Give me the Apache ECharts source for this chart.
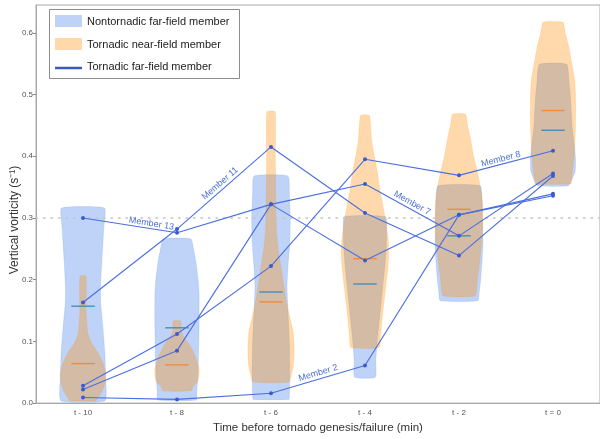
<!DOCTYPE html>
<html><head><meta charset="utf-8">
<script src="https://cdn.jsdelivr.net/npm/echarts@6/dist/echarts.min.js"></script>
<style>html,body{margin:0;padding:0;background:#fff}#c{width:600px;height:439px}</style>
</head><body><div id="c"></div>
<script>
// ---------------- data ----------------
const categories = ['t - 10', 't - 8', 't - 6', 't - 4', 't - 2', 't = 0'];
const yTickLabels = ['0.0', '0.1', '0.2', '0.3', '0.4', '0.5', '0.6'];

// Nontornadic far-field members: violin profile (vorticity levels, density half-width in category units)
const nontornadicLevels = [
  [0.316, 0.283, 0.23, 0.188, 0.161, 0.124, 0.082, 0.04, 0.004],
  [0.266, 0.25, 0.23, 0.2, 0.177, 0.124, 0.071, 0.04, 0.019, 0.005],
  [0.368, 0.34, 0.30, 0.26, 0.22, 0.19, 0.15, 0.10, 0.05, 0.01, 0.006],
  [0.302, 0.28, 0.25, 0.22, 0.19, 0.16, 0.13, 0.10, 0.07, 0.042],
  [0.352, 0.325, 0.29, 0.26, 0.23, 0.20, 0.18, 0.166],
  [0.549, 0.52, 0.497, 0.47, 0.444, 0.42, 0.395, 0.375, 0.362, 0.352]
];
const nontornadicDensity = [
  [0.228, 0.221, 0.2, 0.186, 0.189, 0.211, 0.232, 0.242, 0.235],
  [0.148, 0.175, 0.2, 0.225, 0.235, 0.235, 0.228, 0.22, 0.21, 0.205],
  [0.18, 0.195, 0.205, 0.2, 0.18, 0.17, 0.18, 0.195, 0.2, 0.195, 0.19],
  [0.22, 0.23, 0.225, 0.21, 0.19, 0.17, 0.15, 0.13, 0.115, 0.11],
  [0.225, 0.245, 0.25, 0.255, 0.245, 0.23, 0.215, 0.2],
  [0.145, 0.17, 0.185, 0.195, 0.205, 0.225, 0.24, 0.235, 0.2, 0.16]
];
// Tornadic near-field members
const tornadicLevels = [
  [0.206, 0.15, 0.135, 0.114, 0.098, 0.082, 0.066, 0.05, 0.034, 0.019, 0.008, 0.004],
  [0.133, 0.119, 0.108, 0.093, 0.077, 0.056, 0.045, 0.035, 0.027, 0.02],
  [0.472, 0.40, 0.30, 0.275, 0.249, 0.222, 0.196, 0.169, 0.143, 0.116, 0.09, 0.063, 0.047, 0.034],
  [0.466, 0.426, 0.399, 0.373, 0.346, 0.32, 0.294, 0.267, 0.241, 0.214, 0.188, 0.161, 0.135, 0.108, 0.09],
  [0.468, 0.45, 0.43, 0.40, 0.378, 0.352, 0.325, 0.29, 0.26, 0.23, 0.20, 0.174],
  [0.617, 0.6, 0.577, 0.55, 0.524, 0.495, 0.46, 0.43, 0.40, 0.38, 0.36, 0.355]
];
const tornadicDensity = [
  [0.032, 0.033, 0.038, 0.05, 0.088, 0.158, 0.21, 0.238, 0.235, 0.204, 0.158, 0.14],
  [0.04, 0.042, 0.07, 0.14, 0.19, 0.235, 0.235, 0.22, 0.17, 0.15],
  [0.044, 0.046, 0.053, 0.06, 0.077, 0.105, 0.13, 0.158, 0.193, 0.235, 0.246, 0.24, 0.218, 0.19],
  [0.046, 0.07, 0.1, 0.133, 0.158, 0.19, 0.22, 0.245, 0.253, 0.24, 0.22, 0.2, 0.18, 0.165, 0.15],
  [0.07, 0.09, 0.12, 0.155, 0.19, 0.225, 0.25, 0.255, 0.24, 0.22, 0.195, 0.17],
  [0.105, 0.13, 0.168, 0.2, 0.23, 0.24, 0.24, 0.235, 0.225, 0.21, 0.195, 0.19]
];
const nontornadicMean = [0.157, 0.122, 0.18, 0.193, 0.271, 0.442];
const tornadicMean = [0.064, 0.062, 0.164, 0.234, 0.314, 0.474];

// Tornadic far-field members
const member2  = [0.009, 0.006, 0.016, 0.061, 0.305, 0.339];
const member7  = [0.022, 0.085, 0.322, 0.355, 0.271, 0.372];
const member8  = [0.028, 0.112, 0.222, 0.395, 0.369, 0.409];
const member11 = [0.163, 0.282, 0.415, 0.308, 0.239, 0.368];
const member13 = [0.300, 0.276, 0.322, 0.231, 0.305, 0.336];
const referenceLevel = 0.3;

// ---------------- styling ----------------
const FONT = '"Liberation Sans", Arial, sans-serif';
const blueFill = 'rgba(100,149,237,0.42)';
const orangeFill = 'rgba(255,140,0,0.33)';
const memberColor = '#4a6fe0';

const memberLabelPlacement = [
  { text: 'Member 13', series: member13, seg: 0, at: 0.72, lift: 5 },
  { text: 'Member 11', series: member11, seg: 1, at: 0.5, lift: 6 },
  { text: 'Member 7', series: member7, seg: 3, at: 0.47, lift: 6 },
  { text: 'Member 8', series: member8, seg: 4, at: 0.46, lift: 5 },
  { text: 'Member 2', series: member2, seg: 2, at: 0.52, lift: 6 }
];

function violinRenderer(levels, density, fill) {
  return function (params, api) {
    const i = params.dataIndex;
    const lv = levels[i], dn = density[i];
    const band = api.size([1, 0])[0];
    const right = [], left = [];
    for (let k = 0; k < lv.length; k++) {
      const c = api.coord([i, lv[k]]);
      right.push([c[0] + dn[k] * band, c[1]]);
      left.push([c[0] - dn[k] * band, c[1]]);
    }
    return {
      type: 'polygon',
      shape: { points: right.concat(left.reverse()), smooth: 0.15 },
      style: { fill: fill, stroke: fill, lineWidth: 0.5 }
    };
  };
}
function meanRenderer(means, color) {
  return function (params, api) {
    const i = params.dataIndex;
    const band = api.size([1, 0])[0];
    const c = api.coord([i, means[i]]);
    return {
      type: 'line',
      shape: { x1: c[0] - 0.125 * band, y1: c[1], x2: c[0] + 0.125 * band, y2: c[1] },
      style: { stroke: color, lineWidth: 1.4 }
    };
  };
}
function violinData(levels) {
  return levels.map((lv, i) => [i, lv[0], lv[lv.length - 1]]);
}
function memberSeries(data) {
  return {
    type: 'line', name: 'Tornadic far-field member', data: data, z: 6,
    symbol: 'circle', symbolSize: 4,
    lineStyle: { color: memberColor, width: 1.1 },
    itemStyle: { color: '#3a5bd0' }, emphasis: { disabled: true }
  };
}

const chart = echarts.init(document.getElementById('c'), null, { renderer: 'canvas' });
chart.setOption({
  animation: false,
  backgroundColor: '#fff',
  textStyle: { fontFamily: FONT },
  grid: { left: 36, right: -6, top: 5, bottom: 27, show: true, borderColor: '#a8a8a8', borderWidth: 1 },
  xAxis: {
    type: 'category', data: categories, boundaryGap: true,
    axisLine: { lineStyle: { color: '#a8a8a8' } },
    axisTick: { alignWithLabel: true, length: 3, lineStyle: { color: '#888' } },
    axisLabel: { fontSize: 8, color: '#555', margin: 6, fontFamily: FONT },
    name: 'Time before tornado genesis/failure (min)', nameLocation: 'middle', nameGap: 15,
    nameTextStyle: { fontSize: 11.5, color: '#333', fontFamily: FONT }
  },
  yAxis: {
    type: 'value', min: 0, max: 0.645, interval: 0.1,
    splitLine: { show: false },
    axisLine: { show: true, lineStyle: { color: '#a8a8a8' } },
    axisTick: { show: true, length: 3, lineStyle: { color: '#888' } },
    axisLabel: {
      fontSize: 8, color: '#555', margin: 3, fontFamily: FONT, showMaxLabel: false,
      formatter: v => { const k = Math.round(v * 10); return (Math.abs(v * 10 - k) < 1e-6 && yTickLabels[k]) ? yTickLabels[k] : ''; }
    }
  },
  series: [
    {
      type: 'custom', name: 'Nontornadic far-field member', z: 1,
      renderItem: violinRenderer(nontornadicLevels, nontornadicDensity, blueFill),
      data: violinData(nontornadicLevels), encode: { x: 0, y: [1, 2] },
      markLine: {
        silent: true, symbol: 'none', label: { show: false }, animation: false,
        lineStyle: { color: '#c4c4c4', width: 1.5, type: [1.5, 6], cap: 'round' },
        data: [{ yAxis: referenceLevel }]
      }
    },
    {
      type: 'custom', name: 'Tornadic near-field member', z: 2,
      renderItem: violinRenderer(tornadicLevels, tornadicDensity, orangeFill),
      data: violinData(tornadicLevels), encode: { x: 0, y: [1, 2] }
    },
    {
      type: 'custom', name: 'nontornadic mean', z: 3,
      renderItem: meanRenderer(nontornadicMean, '#4b8db5'),
      data: nontornadicMean.map((m, i) => [i, m]), encode: { x: 0, y: 1 }
    },
    {
      type: 'custom', name: 'tornadic mean', z: 3,
      renderItem: meanRenderer(tornadicMean, '#f28c3c'),
      data: tornadicMean.map((m, i) => [i, m]), encode: { x: 0, y: 1 }
    },
    memberSeries(member2), memberSeries(member7), memberSeries(member8),
    memberSeries(member11), memberSeries(member13),
    {
      type: 'custom', name: 'member labels', z: 7,
      renderItem: function (params, api) {
        const L = memberLabelPlacement[params.dataIndex];
        const p0 = api.coord([L.seg, L.series[L.seg]]);
        const p1 = api.coord([L.seg + 1, L.series[L.seg + 1]]);
        const dx = p1[0] - p0[0], dy = p1[1] - p0[1];
        const len = Math.hypot(dx, dy);
        const nx = dy / len, ny = -dx / len;
        return {
          type: 'text',
          x: p0[0] + dx * L.at + nx * L.lift,
          y: p0[1] + dy * L.at + ny * L.lift,
          rotation: -Math.atan2(dy, dx),
          style: { text: L.text, fill: '#4a6fd0', font: '9px ' + FONT, align: 'center', verticalAlign: 'middle' }
        };
      },
      data: memberLabelPlacement.map(L => [L.seg, L.series[L.seg]]), encode: { x: 0, y: 1 }
    }
  ],
  graphic: [
    { type: 'rect', z: 100, shape: { x: 49.5, y: 9.5, width: 190, height: 69 }, style: { fill: '#fff', stroke: '#8c8c8c', lineWidth: 1 } },
    { type: 'rect', z: 101, shape: { x: 55, y: 15, width: 27, height: 12 }, style: { fill: blueFill } },
    { type: 'text', z: 101, x: 87, y: 22, style: { text: 'Nontornadic far-field member', font: '11px ' + FONT, fill: '#222', verticalAlign: 'middle' } },
    { type: 'rect', z: 101, shape: { x: 55, y: 38, width: 27, height: 12 }, style: { fill: orangeFill } },
    { type: 'text', z: 101, x: 87, y: 44.5, style: { text: 'Tornadic near-field member', font: '11px ' + FONT, fill: '#222', verticalAlign: 'middle' } },
    { type: 'line', z: 101, shape: { x1: 55, y1: 68, x2: 82, y2: 68 }, style: { stroke: '#3b5cb8', lineWidth: 2.5 } },
    { type: 'text', z: 101, x: 87, y: 66.5, style: { text: 'Tornadic far-field member', font: '11px ' + FONT, fill: '#222', verticalAlign: 'middle' } },
    { type: 'text', z: 101, x: 15, y: 220, rotation: Math.PI / 2, style: { text: 'Vertical vorticity (s⁻¹)', font: '12px ' + FONT, fill: '#333', align: 'center', verticalAlign: 'middle' } }
  ]
});
</script></body></html>
